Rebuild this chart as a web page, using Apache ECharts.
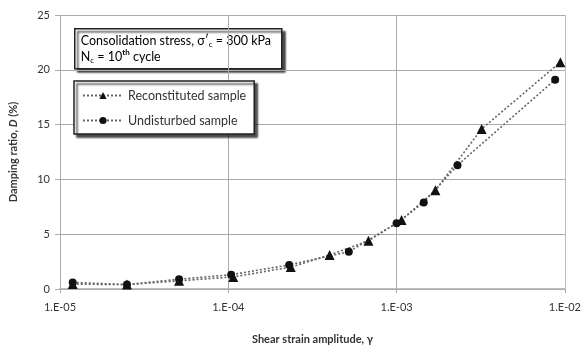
<!DOCTYPE html>
<html><head><meta charset="utf-8">
<script src="https://cdn.jsdelivr.net/npm/echarts@6/dist/echarts.min.js"></script>
<style>html,body{margin:0;padding:0;background:#fff}#c{width:584px;height:350px}</style>
</head><body><div id="c"></div>
<script>
const seriesNames = ['Reconstituted sample', 'Undisturbed sample'];
const reconStrain = [1.19e-5, 2.5e-5, 5.1e-5, 1.07e-4, 2.35e-4, 4.0e-4, 6.8e-4, 1.07e-3, 1.7e-3, 3.2e-3, 9.4e-3];
const reconDamping = [0.45, 0.4, 0.75, 1.1, 2.0, 3.1, 4.4, 6.3, 9.0, 14.6, 20.7];
const undistStrain = [1.19e-5, 2.5e-5, 5.1e-5, 1.04e-4, 2.3e-4, 5.2e-4, 1.0e-3, 1.45e-3, 2.3e-3, 8.75e-3];
const undistDamping = [0.6, 0.4, 0.9, 1.3, 2.2, 3.4, 6.0, 7.9, 11.3, 19.1];
const yTicks = [0, 5, 10, 15, 20, 25];
const xDecades = [1e-5, 1e-4, 1e-3, 1e-2];

const FONT = 'Lato';
const minorLines = [];
for (let d = 0; d < xDecades.length - 1; d++) {
  for (let m = 2; m <= 9; m++) minorLines.push({ xAxis: xDecades[d] * m });
}
function fmtX(v) {
  const e = Math.round(Math.log10(v));
  const s = e < 0 ? '-' : '+';
  const a = Math.abs(e);
  return '1.E' + s + (a < 10 ? '0' + a : a);
}
const chart = echarts.init(document.getElementById('c'));
chart.setOption({
  animation: false,
  textStyle: { fontFamily: FONT },
  grid: { left: 60, right: 19, top: 15, bottom: 61 },
  xAxis: {
    type: 'log', logBase: 10, min: xDecades[0], max: xDecades[xDecades.length - 1],
    axisLine: { lineStyle: { color: '#aaa', width: 1.5 } },
    axisTick: { show: true, length: 4, lineStyle: { color: '#aaa' } },
    axisLabel: { formatter: fmtX, color: '#333', fontSize: 11, margin: 13 },
    splitLine: { show: true, lineStyle: { color: '#aaa', width: 1 } },
    name: 'Shear strain amplitude, γ', nameLocation: 'middle', nameGap: 45,
    nameTextStyle: { fontWeight: 'bold', fontSize: 11, color: '#333' }
  },
  yAxis: {
    type: 'value', min: yTicks[0], max: yTicks[yTicks.length - 1], interval: 5,
    axisLine: { show: false },
    axisTick: { show: true, length: 5, lineStyle: { color: '#aaa' } },
    axisLabel: { color: '#333', fontSize: 11, margin: 10 },
    splitLine: { show: true, lineStyle: { color: '#aaa', width: 1.2 } },
    name: '{b|Damping ratio, }{bi|D}{b| (%)}', nameLocation: 'middle', nameGap: 41, nameRotate: 90,
    nameTextStyle: { rich: {
      b: { fontWeight: 'bold', fontSize: 11, color: '#333', fontFamily: FONT },
      bi: { fontWeight: 'bold', fontStyle: 'italic', fontSize: 11, color: '#333', fontFamily: FONT }
    } }
  },
  legend: {
    orient: 'vertical', left: 74, top: 81, itemGap: 12,
    padding: [8, 8, 7, 8], itemWidth: 40, itemHeight: 9,
    backgroundColor: '#fff', borderColor: '#222', borderWidth: 1.5,
    shadowColor: 'rgba(0,0,0,0.7)', shadowBlur: 2, shadowOffsetX: 3, shadowOffsetY: 3,
    textStyle: { fontSize: 12.5, color: '#333', fontFamily: FONT },
    data: seriesNames
  },
  graphic: [{
    type: 'group', left: 74, top: 28,
    children: [
      { type: 'rect', shape: { x: 0, y: 0, width: 207, height: 40 },
        style: { fill: '#fff', stroke: '#222', lineWidth: 1.5,
          shadowColor: 'rgba(0,0,0,0.7)', shadowBlur: 2, shadowOffsetX: 3, shadowOffsetY: 3 } },
      { type: 'text', x: 6, y: 4, style: {
          text: '{t|Consolidation stress, σ′}{s|c}{t| = 300 kPa}\n{t|N}{s|c}{t| = 10}{p|th}{t| cycle}',
          rich: {
            t: { fontSize: 12.5, fontFamily: FONT, color: '#333', lineHeight: 16, verticalAlign: 'middle' },
            s: { fontSize: 8, fontFamily: FONT, color: '#333', verticalAlign: 'bottom', lineHeight: 16, padding: [6, 0, 0, 0] },
            p: { fontSize: 8, fontFamily: FONT, color: '#333', fontWeight: 'bold', verticalAlign: 'top', lineHeight: 16, padding: [0, 0, 6, 0] }
          } } }
    ]
  }],
  series: [
    {
      type: 'line', silent: true, data: [], z: 1,
      markLine: { silent: true, symbol: 'none', label: { show: false },
        lineStyle: { color: '#bdbdbd', width: 1, type: 'solid' }, data: minorLines }
    },
    {
      name: seriesNames[0], type: 'line', z: 5,
      data: reconStrain.map((x, i) => [x, reconDamping[i]]),
      symbol: 'triangle', symbolSize: 10,
      itemStyle: { color: '#111' },
      lineStyle: { color: '#666', width: 1.6, type: [2, 2] }
    },
    {
      name: seriesNames[1], type: 'line', z: 5,
      data: undistStrain.map((x, i) => [x, undistDamping[i]]),
      symbol: 'circle', symbolSize: 8,
      itemStyle: { color: '#111' },
      lineStyle: { color: '#666', width: 1.6, type: [2, 2] }
    }
  ]
});
</script></body></html>
